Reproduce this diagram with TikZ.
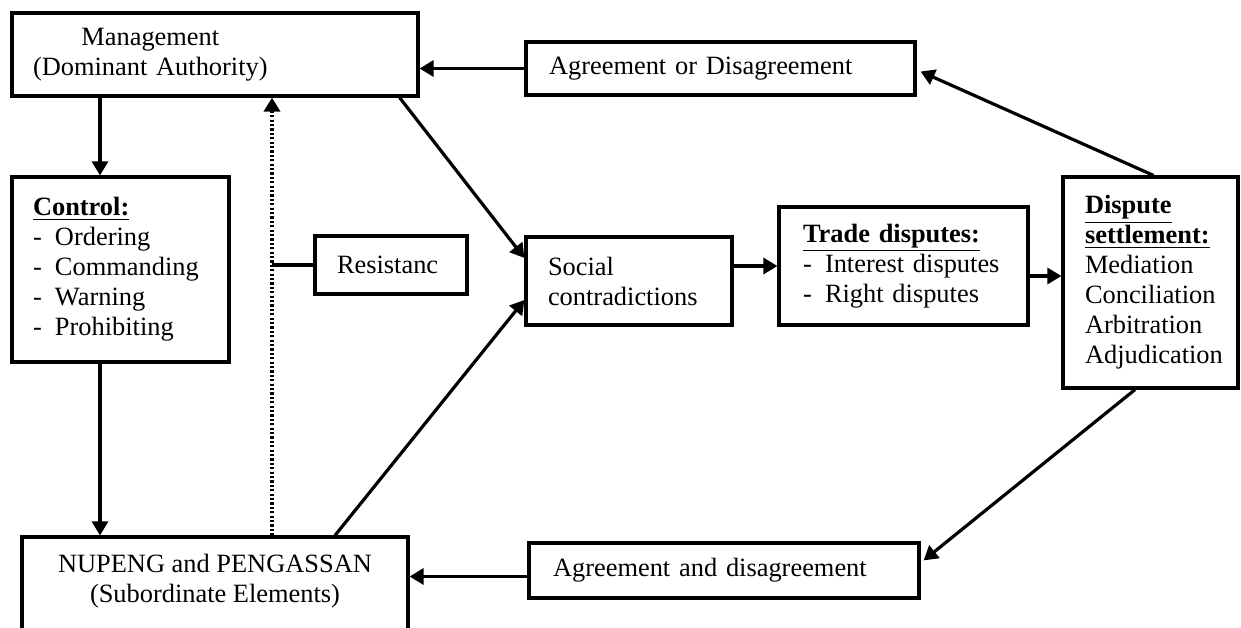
\documentclass[tikz,border=0pt]{standalone}
\usepackage{fontspec}
\setmainfont{Liberation Serif}
\usepackage{tikz}
\usetikzlibrary{arrows.meta, positioning}
\tikzset{>={Triangle[length=7pt,width=8pt]}}
\newcommand{\boxfont}{\fontsize{13.2pt}{15pt}\selectfont}
\newcommand{\dashitem}{\makebox[11pt][l]{-}}
\newcommand{\head}[1]{\underline{\textbf{#1}}}
\tikzset{
  box/.style={draw, line width=1.6pt, inner ysep=0pt, align=left, font=\boxfont},
  flow/.style={->, line width=1.6pt},
  dotflow/.style={flow, line width=2pt, dash pattern=on 1.1pt off 1.1pt}
}

\begin{document}
\begin{tikzpicture}[x=0.5pt,y=-0.5pt]
		\useasboundingbox (0,0) rectangle (1241,627);
		\clip (0,0) rectangle (1241,627);
		
		\node [box, minimum width=203pt, minimum height=41.5pt, inner xsep=10.5pt, text width=182pt] (mgmt) at (215,54.5)
			{\begin{tabular}{@{}c@{}}Management\\(Dominant Authority)\end{tabular}};
		\node [box, minimum width=194.5pt, minimum height=26.5pt, inner xsep=11.5pt, text width=171.5pt] (agr1) at (720.5,68.5) {Agreement or Disagreement};
		\node [box, minimum width=108.5pt, minimum height=92.5pt, inner xsep=10.5pt, text width=87.5pt] (ctrl) at (120.5,269.5)
			{\head{Control:}\\\dashitem Ordering\\\dashitem Commanding\\\dashitem Warning\\\dashitem Prohibiting};
		\node [box, minimum width=76pt, minimum height=29pt, inner xsep=11pt, text width=54pt] (res) at (391,265) {Resistanc};
		\node [box, minimum width=103pt, minimum height=44pt, inner xsep=11pt, text width=81pt] (soc) at (629,281) {Social\\contradictions};
		\node [box, minimum width=124.5pt, minimum height=59pt, inner xsep=12pt, text width=100.5pt] (trade) at (903.5,266)
			{\head{Trade disputes:}\\\dashitem Interest disputes\\\dashitem Right disputes};
		\node [box, minimum width=87.5pt, minimum height=105.5pt, inner xsep=11pt, text width=65.5pt] (disp) at (1150.5,282.5)
			{\head{Dispute}\\\head{settlement:}\\Mediation\\Conciliation\\Arbitration\\Adjudication};
		\node [box, minimum width=195pt, minimum height=27.5pt, inner xsep=12pt, text width=171pt] (agr2) at (724,570.5) {Agreement and disagreement};
		\node [box, minimum width=193pt, minimum height=56.5pt] (nup) at (215,593.5) {};
		\node [align=center, font=\boxfont] (nuptext) at (215,581) {NUPENG and PENGASSAN\\(Subordinate Elements)};
		
		\coordinate (spine) at (100,0);
		\coordinate (resjoin) at (272,265);
		
		% control chain on the left
		\draw [flow] (mgmt.south -| spine) -- (ctrl.north -| spine);
		\draw [flow] (ctrl.south -| spine) -- (nup.north -| spine);
		\draw [dotflow] (nup.north -| resjoin) -- (mgmt.south -| resjoin);
		\draw [line width=1.6pt] (res.west) -- (resjoin);
		
		% into social contradictions
		\draw [flow] ([xshift=-10pt]mgmt.south east) -- ([yshift=11.5pt]soc.west);
		\draw [flow] ([xshift=60pt]nup.north) -- ([yshift=-9.5pt]soc.west);
		\draw [flow] (soc.east |- trade.west) -- (trade.west);
		\draw [flow] ([yshift=-5pt]trade.east) -- ([yshift=-5pt]trade.east -| disp.west);
		
		% settlement back to the parties
		\draw [flow] ([xshift=1.5pt]disp.north) -- ([xshift=2pt,yshift=-1.5pt]agr1.east);
		\draw [flow] ([xshift=-7.75pt]disp.south) -- ([xshift=1.5pt,yshift=-9.5pt]agr2.north east);
		\draw [flow] (agr1.west) -- (agr1.west -| mgmt.east);
		\draw [flow] ([yshift=-3pt]agr2.west) -- ([yshift=-3pt]agr2.west -| nup.east);
		
\end{tikzpicture}
\end{document}
